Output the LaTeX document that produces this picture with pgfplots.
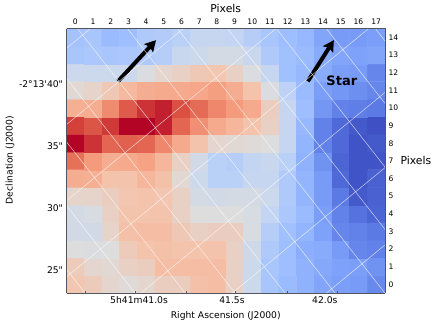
\documentclass[border=0pt]{standalone}
\usepackage{fontspec}
\setmainfont{DejaVu Sans}
\newfontfamily\plainf{DejaVu Sans}
\usepackage{pgfplots}
\pgfplotsset{compat=1.18}
\usetikzlibrary{arrows.meta}

\definecolor{spine}{RGB}{85,85,95}

% matplotlib coolwarm, sampled every 0.1
\pgfplotsset{colormap={coolwarm}{
  rgb255=(59,76,192) rgb255=(88,118,226) rgb255=(123,159,249) rgb255=(158,190,255)
  rgb255=(192,212,245) rgb255=(221,221,221) rgb255=(244,195,171) rgb255=(246,163,133)
  rgb255=(234,123,96) rgb255=(214,70,60) rgb255=(180,4,38)}}

\pgfplotsset{
  frameaxis/.style={
    scale only axis, width=318.5pt, height=264.8pt,
    xmin=-0.5, xmax=17.5, ymin=-0.5, ymax=14.5,
    axis line style={spine,line width=0.9pt},
    /pgf/number format/assume math mode=true,
    major tick length=0pt,
  },
  gridline/.style={white,line width=0.5pt,opacity=0.7,forget plot},
  bigarrow/.style={black,line width=4pt,-{Stealth[length=11pt,width=12pt,inset=2pt]},forget plot},
}

\begin{document}
\begin{tikzpicture}
\useasboundingbox (-66.5pt,-33.7pt) rectangle (368.5pt,293.3pt);
\begin{axis}[
  frameaxis,
  axis on top,
  axis x line*=top, axis y line*=right,
  colormap name=coolwarm, point meta min=0, point meta max=1,
  xtick={0,1,...,17}, ytick={0,1,...,14},
  xticklabels={0,1,2,3,4,5,6,7,8,9,10,11,12,13,14,15,16,17},
  yticklabels={0,1,2,3,4,5,6,7,8,9,10,11,12,13,14},
  tick label style={font=\fontsize{7.6}{8}\selectfont},
  xlabel={Pixels}, ylabel={Pixels},
  every axis x label/.style={at={(axis description cs:0.5,1.077)},anchor=center,font=\fontsize{10.8}{12}\selectfont},
  every axis y label/.style={at={(axis description cs:1.097,0.503)},anchor=center,rotate=0,font=\fontsize{10.8}{12}\selectfont},
]
\addplot[matrix plot*,mesh/cols=18,point meta=explicit] coordinates {
(0,0)[.59] (1,0)[.57] (2,0)[.53] (3,0)[.51] (4,0)[.53] (5,0)[.56] (6,0)[.56] (7,0)[.61] (8,0)[.62] (9,0)[.55] (10,0)[.44] (11,0)[.33] (12,0)[.29] (13,0)[.26] (14,0)[.22] (15,0)[.20] (16,0)[.19] (17,0)[.15]
(0,1)[.57] (1,1)[.53] (2,1)[.52] (3,1)[.55] (4,1)[.56] (5,1)[.62] (6,1)[.62] (7,1)[.62] (8,1)[.62] (9,1)[.55] (10,1)[.44] (11,1)[.33] (12,1)[.30] (13,1)[.26] (14,1)[.23] (15,1)[.21] (16,1)[.20] (17,1)[.17]
(0,2)[.50] (1,2)[.49] (2,2)[.50] (3,2)[.57] (4,2)[.60] (5,2)[.61] (6,2)[.60] (7,2)[.60] (8,2)[.60] (9,2)[.55] (10,2)[.45] (11,2)[.35] (12,2)[.30] (13,2)[.25] (14,2)[.24] (15,2)[.19] (16,2)[.14] (17,2)[.13]
(0,3)[.46] (1,3)[.46] (2,3)[.54] (3,3)[.61] (4,3)[.62] (5,3)[.62] (6,3)[.58] (7,3)[.55] (8,3)[.56] (9,3)[.56] (10,3)[.48] (11,3)[.37] (12,3)[.31] (13,3)[.27] (14,3)[.21] (15,3)[.14] (16,3)[.13] (17,3)[.11]
(0,4)[.47] (1,4)[.48] (2,4)[.55] (3,4)[.60] (4,4)[.60] (5,4)[.60] (6,4)[.55] (7,4)[.50] (8,4)[.50] (9,4)[.50] (10,4)[.48] (11,4)[.41] (12,4)[.34] (13,4)[.29] (14,4)[.20] (15,4)[.13] (16,4)[.09] (17,4)[.06]
(0,5)[.54] (1,5)[.54] (2,5)[.56] (3,5)[.59] (4,5)[.60] (5,5)[.59] (6,5)[.55] (7,5)[.47] (8,5)[.46] (9,5)[.47] (10,5)[.47] (11,5)[.44] (12,5)[.35] (13,5)[.27] (14,5)[.19] (15,5)[.11] (16,5)[.03] (17,5)[.05]
(0,6)[.67] (1,6)[.66] (2,6)[.60] (3,6)[.60] (4,6)[.64] (5,6)[.61] (6,6)[.52] (7,6)[.44] (8,6)[.38] (9,6)[.38] (10,6)[.42] (11,6)[.42] (12,6)[.35] (13,6)[.27] (14,6)[.19] (15,6)[.07] (16,6)[.02] (17,6)[.05]
(0,7)[.82] (1,7)[.72] (2,7)[.67] (3,7)[.68] (4,7)[.70] (5,7)[.64] (6,7)[.55] (7,7)[.46] (8,7)[.38] (9,7)[.37] (10,7)[.41] (11,7)[.43] (12,7)[.38] (13,7)[.26] (14,7)[.17] (15,7)[.06] (16,7)[.02] (17,7)[.02]
(0,8)[1.0] (1,8)[.93] (2,8)[.84] (3,8)[.85] (4,8)[.84] (5,8)[.77] (6,8)[.68] (7,8)[.60] (8,8)[.53] (9,8)[.52] (10,8)[.51] (11,8)[.50] (12,8)[.42] (13,8)[.27] (14,8)[.13] (15,8)[.07] (16,8)[.02] (17,8)[.03]
(0,9)[.91] (1,9)[.87] (2,9)[.92] (3,9)[1.0] (4,9)[1.0] (5,9)[.96] (6,9)[.84] (7,9)[.75] (8,9)[.68] (9,9)[.64] (10,9)[.60] (11,9)[.55] (12,9)[.42] (13,9)[.28] (14,9)[.13] (15,9)[.07] (16,9)[.03] (17,9)[.01]
(0,10)[.66] (1,10)[.67] (2,10)[.76] (3,10)[.86] (4,10)[.93] (5,10)[.96] (6,10)[.88] (7,10)[.83] (8,10)[.77] (9,10)[.72] (10,10)[.68] (11,10)[.56] (12,10)[.42] (13,10)[.30] (14,10)[.18] (15,10)[.13] (16,10)[.12] (17,10)[.11]
(0,11)[.52] (1,11)[.54] (2,11)[.58] (3,11)[.63] (4,11)[.67] (5,11)[.68] (6,11)[.68] (7,11)[.69] (8,11)[.71] (9,11)[.67] (10,11)[.60] (11,11)[.49] (12,11)[.39] (13,11)[.29] (14,11)[.20] (15,11)[.18] (16,11)[.16] (17,11)[.14]
(0,12)[.44] (1,12)[.44] (2,12)[.44] (3,12)[.44] (4,12)[.49] (5,12)[.53] (6,12)[.55] (7,12)[.58] (8,12)[.59] (9,12)[.55] (10,12)[.49] (11,12)[.42] (12,12)[.31] (13,12)[.28] (14,12)[.24] (15,12)[.20] (16,12)[.19] (17,12)[.14]
(0,13)[.33] (1,13)[.34] (2,13)[.33] (3,13)[.34] (4,13)[.35] (5,13)[.37] (6,13)[.43] (7,13)[.44] (8,13)[.47] (9,13)[.47] (10,13)[.43] (11,13)[.35] (12,13)[.31] (13,13)[.29] (14,13)[.24] (15,13)[.22] (16,13)[.21] (17,13)[.22]
(0,14)[.32] (1,14)[.33] (2,14)[.29] (3,14)[.30] (4,14)[.35] (5,14)[.36] (6,14)[.38] (7,14)[.42] (8,14)[.42] (9,14)[.41] (10,14)[.37] (11,14)[.33] (12,14)[.30] (13,14)[.28] (14,14)[.22] (15,14)[.19] (16,14)[.19] (17,14)[.20]
};

% arrows sit under the sky grid
\addplot[bigarrow] coordinates {(2.41,11.51) (4.56,13.84)};
\addplot[bigarrow] coordinates {(13.14,11.51) (14.61,13.84)};

% sky grid, running down to the right
\addplot[gridline] coordinates {(-11.15,14.46) (0.55,-0.48)};
\addplot[gridline] coordinates {(-8.32,14.46) (3.37,-0.48)};
\addplot[gridline] coordinates {(-5.50,14.46) (6.20,-0.48)};
\addplot[gridline] coordinates {(-2.68,14.46) (9.02,-0.48)};
\addplot[gridline] coordinates {(0.15,14.46) (11.84,-0.48)};
\addplot[gridline] coordinates {(2.97,14.46) (14.67,-0.48)};
\addplot[gridline] coordinates {(5.80,14.46) (17.49,-0.48)};
\addplot[gridline] coordinates {(8.62,14.46) (20.32,-0.48)};
\addplot[gridline] coordinates {(11.39,14.46) (23.09,-0.48)};
\addplot[gridline] coordinates {(14.21,14.46) (25.91,-0.48)};
\addplot[gridline] coordinates {(16.98,14.46) (28.68,-0.48)};
% sky grid, running up to the right
\addplot[gridline] coordinates {(-0.5,-12.59) (17.5,2.24)};
\addplot[gridline] coordinates {(-0.5,-8.21) (17.5,6.62)};
\addplot[gridline] coordinates {(-0.5,-3.95) (17.5,10.88)};
\addplot[gridline] coordinates {(-0.5,0.43) (17.5,15.26)};
\addplot[gridline] coordinates {(-0.5,4.74) (17.5,19.57)};
\addplot[gridline] coordinates {(-0.5,9.06) (17.5,23.89)};
\addplot[gridline] coordinates {(-0.5,13.38) (17.5,28.20)};

\node[font=\fontsize{13}{14}\selectfont\bfseries] at (axis cs:15.06,11.56) {Star};
\end{axis}

\begin{axis}[
  frameaxis,
  axis x line*=bottom, axis y line*=left,
  xtick={3.6,8.85,14.1},
  xticklabels={5h41m41.0s,41.5s,42.0s},
  ytick={0.82,4.35,7.81,11.33},
  yticklabels={{\plainf 25"},{\plainf 30"},{\plainf 35"},{\plainf -2°13'40"}},
  tick label style={font=\fontsize{9.2}{10}\selectfont},
  extra x ticks={0.55,3.37,6.25,9.02,11.96,14.78},
  extra x tick labels={},
  extra x tick style={major tick length=2pt,tick style={spine,line width=0.5pt}},
  xlabel={Right Ascension (J2000)}, ylabel={Declination (J2000)},
  every axis x label/.style={at={(axis description cs:0.5,-0.087)},anchor=center,font=\fontsize{9.2}{10}\selectfont},
  every axis y label/.style={at={(axis description cs:-0.177,0.503)},anchor=center,rotate=90,font=\fontsize{9.2}{10}\selectfont},
]
\end{axis}
\end{tikzpicture}
\end{document}
